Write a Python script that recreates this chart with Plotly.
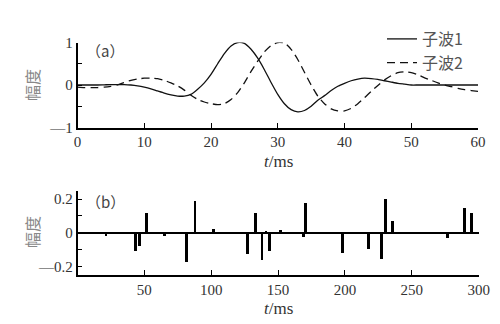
import plotly.graph_objects as go

# ---- data ----
t_ms = list(range(0, 61))
wavelet1 = [0, 0, 0, 0, 0.005, 0.01, 0.01, 0.01, 0.0, -0.02,
            -0.05, -0.09, -0.14, -0.19, -0.23, -0.26, -0.26, -0.22, -0.1, 0.05,
            0.25, 0.5, 0.74, 0.92, 1.0, 0.98, 0.84, 0.63, 0.36, 0.06,
            -0.22, -0.44, -0.58, -0.63, -0.6, -0.5, -0.36, -0.25, -0.13, -0.03,
            0.04, 0.1, 0.14, 0.16, 0.15, 0.13, 0.1, 0.07, 0.04, 0.02,
            0.0, 0, 0, 0, 0, 0, 0, 0, 0, 0, 0]
wavelet2 = [-0.05, -0.06, -0.06, -0.06, -0.05, -0.03, 0.0, 0.06, 0.11, 0.14,
            0.16, 0.16, 0.15, 0.11, 0.05, -0.02, -0.12, -0.24, -0.34, -0.4,
            -0.44, -0.46, -0.44, -0.34, -0.18, 0.05, 0.32, 0.56, 0.78, 0.93,
            1.0, 0.99, 0.84, 0.6, 0.3, 0.0, -0.26, -0.44, -0.56, -0.61,
            -0.61, -0.55, -0.44, -0.3, -0.15, -0.01, 0.12, 0.22, 0.29, 0.31,
            0.29, 0.24, 0.17, 0.11, 0.05, 0.0, -0.04, -0.08, -0.11, -0.13, -0.15]

spike_t = [21, 43, 46, 51, 64.5, 81, 87.5, 101.5, 126.5, 132.5, 137.5, 140.5, 143,
           151.5, 168.5, 170, 198, 217, 227, 230, 235, 276.5, 289, 294]
spike_r = [-0.015, -0.108, -0.075, 0.12, -0.015, -0.173, 0.19, 0.025, -0.125, 0.118,
           -0.16, 0.012, -0.108, 0.018, -0.02, 0.178, -0.12, -0.096, -0.155, 0.2,
           0.072, -0.026, 0.148, 0.12]

top_xticks = [0, 10, 20, 30, 40, 50, 60]
top_yticks = [-1, -0.5, 0, 0.5, 1]
top_ylabels = ["—1", "", "0", "", "1"]
bot_xticks = [50, 100, 150, 200, 250, 300]
bot_yticks = [-0.2, -0.1, 0, 0.1, 0.2]
bot_ylabels = ["—0.2", "", "0", "", "0.2"]
names = ["子波1", "子波2"]

W, H = 500, 324
def px(x): return x / W
def py(y): return 1 - y / H

SERIF = "Times New Roman, Liberation Serif, DejaVu Serif, serif"
TICKFONT = dict(family=SERIF, size=15, color="#333")
CJK = "Noto Sans CJK SC"

fig = go.Figure()
fig.add_trace(go.Scatter(x=t_ms, y=wavelet1, mode="lines", name=names[0],
                         line=dict(color="#111", width=1.3, shape="spline", smoothing=0.6),
                         xaxis="x", yaxis="y"))
fig.add_trace(go.Scatter(x=t_ms, y=wavelet2, mode="lines", name=names[1],
                         line=dict(color="#111", width=1.3, dash="8px,5px", shape="spline", smoothing=0.6),
                         xaxis="x", yaxis="y"))
fig.add_trace(go.Bar(x=spike_t, y=spike_r, width=2.0, marker=dict(color="#000", line=dict(width=0)),
                     showlegend=False, xaxis="x2", yaxis="y2"))

axcommon = dict(showline=True, linecolor="#000", linewidth=1.5, ticks="inside", ticklen=5,
                tickwidth=1.3, tickcolor="#000", showgrid=False, tickfont=TICKFONT,
                mirror=False, automargin=False)

fig.update_layout(
    width=W, height=H, margin=dict(l=0, r=0, t=0, b=0, pad=0, autoexpand=False),
    paper_bgcolor="white", plot_bgcolor="white",
    xaxis=dict(domain=[px(77.5), px(478)], range=[0, 60], tickvals=top_xticks,
               zeroline=False, anchor="y", **axcommon),
    yaxis=dict(domain=[py(127.5), py(42.5)], range=[-1, 1], tickvals=top_yticks,
               ticktext=top_ylabels, zeroline=False, anchor="x", **axcommon),
    xaxis2=dict(domain=[px(77.5), px(478.7)], range=[0, 300], tickvals=bot_xticks,
                zeroline=False, anchor="y2", **axcommon),
    yaxis2=dict(domain=[py(275), py(190.7)], range=[-0.25, 0.25], tickvals=bot_yticks,
                ticktext=bot_ylabels, zeroline=True, zerolinecolor="#000", zerolinewidth=1.5,
                anchor="x2", **axcommon),
    bargap=0,
    showlegend=True,
    legend=dict(x=px(382), y=py(22), xanchor="left", yanchor="top",
                bgcolor="rgba(0,0,0,0)", tracegroupgap=0,
                font=dict(family=CJK, size=16, color="#555")),
)

annots = [
    dict(text="（a）", x=px(84), y=py(50), xanchor="left", yanchor="middle"),
    dict(text="（b）", x=px(84), y=py(201), xanchor="left", yanchor="middle"),
    dict(text="幅度", x=px(32), y=py(85), textangle=-90, xanchor="center", yanchor="middle",
         font=dict(family=CJK, size=16, color="#888")),
    dict(text="幅度", x=px(32), y=py(232), textangle=-90, xanchor="center", yanchor="middle",
         font=dict(family=CJK, size=16, color="#888")),
    dict(text="<i>t</i>/ms", x=px(278), y=py(161), xanchor="center", yanchor="middle",
         font=dict(family=SERIF, size=17, color="#333")),
    dict(text="<i>t</i>/ms", x=px(278), y=py(308), xanchor="center", yanchor="middle",
         font=dict(family=SERIF, size=17, color="#333")),
]
for a in annots:
    a.setdefault("font", dict(family=CJK, size=15, color="#444"))
    fig.add_annotation(xref="paper", yref="paper", showarrow=False, **a)

fig.write_html("out.html")
